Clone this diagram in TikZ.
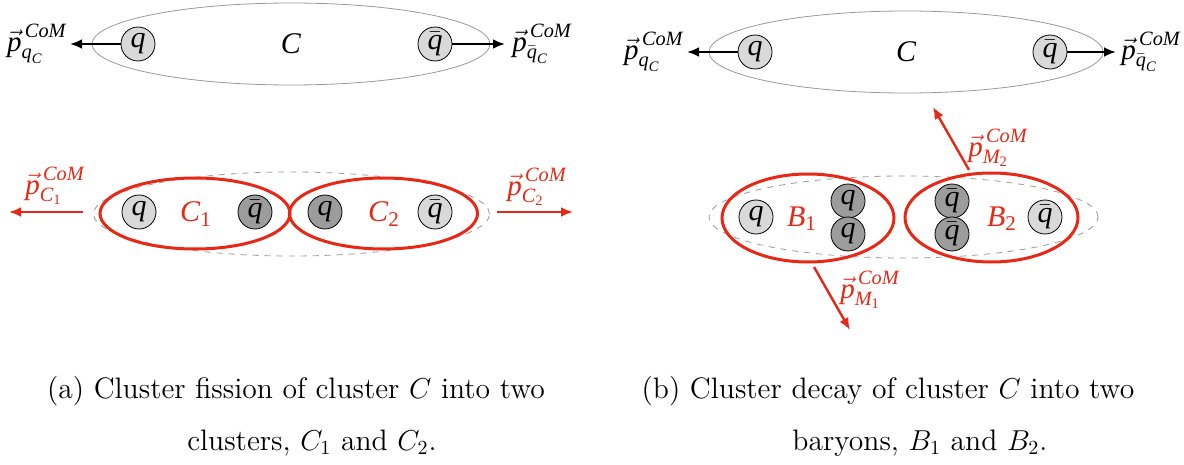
\documentclass[tikz,border=0pt]{standalone}
\usepackage{amsmath}
\usepackage{fontspec}
\newfontfamily\timesfont{Liberation Serif}
\usetikzlibrary{arrows.meta, shapes.geometric, positioning, calc}
\definecolor{fissred}{RGB}{232,40,20}
\newcommand{\ti}[1]{\text{\timesfont\itshape #1}}
\newcommand{\tu}[1]{\text{\timesfont\upshape #1}}
\newcommand{\pcom}[1]{$\vec{\ti{p}}^{\,\ti{CoM}}_{#1}$}

\begin{document}
\begin{tikzpicture}[
    x=0.5pt, y=-0.5pt,
    every node/.style={font=\fontsize{15}{17}\timesfont\itshape},
    quark/.style={circle, draw, thin, fill=gray!30, minimum size=17pt, inner sep=0pt},
    heavyquark/.style={quark, fill=gray!78},
    cluster/.style={ellipse, draw=gray!80, thin, inner sep=0pt},
    fission/.style={ellipse, draw=fissred, line width=1.5pt, inner sep=0pt},
    ghost/.style={ellipse, draw=gray!80, dashed, thin, inner sep=0pt},
    mom/.style={-{Latex[length=6pt,width=5pt]}, line width=1.2pt},
    redmom/.style={mom, fissred},
    momlabel/.style={font=\fontsize{14.5}{16}\timesfont\itshape, inner sep=0.5pt},
    caption/.style={font=\normalfont\fontsize{14.8}{17}\selectfont}
  ]
    \useasboundingbox (0,0) rectangle (1184,465);

    % (a) parent cluster
    \node[cluster, minimum width=199pt, minimum height=41pt] (ca) at (291,44) {};
    \node (calab) at (291,44) {C};
    \node[quark] (qa) at (138,44) {q};
    \node[quark] (qbara) at (435,44) {$\bar{\ti{q}}$};
    \coordinate (tipqa) at (70,44);
    \coordinate (tipqbara) at (505,44);
    \draw[mom] (qa) -- (tipqa);
    \draw[mom] (qbara) -- (tipqbara);
    \node[momlabel, left=1pt of tipqa] (pqa) {\pcom{\ti{q}_{\ti{C}}}};
    \node[momlabel, right=3pt of tipqbara] (pqbara) {\pcom{\bar{\ti{q}}_{\ti{C}}}};

    % (a) fission into C1 and C2
    \node[ghost, minimum width=198pt, minimum height=42pt] (ga) at (291.5,214) {};
    \node[fission, minimum width=95pt, minimum height=35.5pt] (cone) at (195,213.5) {};
    \node[fission, minimum width=94pt, minimum height=35.5pt] (ctwo) at (383.5,213.5) {};
    \node[quark] (qone) at (139,212) {q};
    \node[heavyquark] (qbarone) at (255,212) {$\bar{\ti{q}}$};
    \node[heavyquark] (qtwo) at (325,212) {q};
    \node[quark] (qbartwo) at (435,212) {$\bar{\ti{q}}$};
    \node[text=fissred] (conelab) at (196,214) {$\ti{C}_{\tu{1}}$};
    \node[text=fissred] (ctwolab) at (384,214) {$\ti{C}_{\tu{2}}$};
    \coordinate (startcone) at (83,212);
    \coordinate (tipcone) at (9,212);
    \coordinate (startctwo) at (497,212);
    \coordinate (tipctwo) at (573,212);
    \draw[redmom] (startcone) -- (tipcone);
    \draw[redmom] (startctwo) -- (tipctwo);
    \node[momlabel, text=fissred] (pcone) at (55,186) {\pcom{\ti{C}_{\tu{1}}}};
    \node[momlabel, text=fissred] (pctwo) at (537,187) {\pcom{\ti{C}_{\tu{2}}}};

    % (b) parent cluster
    \node[cluster, minimum width=197pt, minimum height=41pt] (cb) at (906,52) {};
    \node (cblab) at (906,52) {C};
    \node[quark] (qb) at (755,52) {q};
    \node[quark] (qbarb) at (1050,52) {$\bar{\ti{q}}$};
    \coordinate (tipqb) at (687,52);
    \coordinate (tipqbarb) at (1116,52);
    \draw[mom] (qb) -- (tipqb);
    \draw[mom] (qbarb) -- (tipqbarb);
    \node[momlabel, left=1pt of tipqb] (pqb) {\pcom{\ti{q}_{\ti{C}}}};
    \node[momlabel, right=2pt of tipqbarb] (pqbarb) {\pcom{\bar{\ti{q}}_{\ti{C}}}};

    % (b) decay into B1 and B2
    \node[ghost, minimum width=194.5pt, minimum height=41pt] (gb) at (903.5,217) {};
    \node[fission, minimum width=86pt, minimum height=44pt] (bone) at (808,218) {};
    \node[fission, minimum width=86.5pt, minimum height=44.5pt] (btwo) at (991.5,217.5) {};
    \node[quark] (qsolo) at (756,217) {q};
    \node[heavyquark] (qdiup) at (848,201) {q};
    \node[heavyquark] (qdidown) at (848,234) {q};
    \node[heavyquark] (qbardiup) at (952,201) {$\bar{\ti{q}}$};
    \node[heavyquark] (qbardidown) at (952,234) {$\bar{\ti{q}}$};
    \node[quark] (qbarsolo) at (1045,217) {$\bar{\ti{q}}$};
    \node[text=fissred] (bonelab) at (802,219) {$\ti{B}_{\tu{1}}$};
    \node[text=fissred] (btwolab) at (1002,219) {$\ti{B}_{\tu{2}}$};
    \coordinate (startmone) at (814,267);
    \coordinate (tipmone) at (850,330);
    \coordinate (startmtwo) at (969,170);
    \coordinate (tipmtwo) at (933,107);
    \draw[redmom] (startmone) -- (tipmone);
    \draw[redmom] (startmtwo) -- (tipmtwo);
    \node[momlabel, text=fissred] (pmone) at (870,290) {\pcom{\ti{M}_{\tu{1}}}};
    \node[momlabel, text=fissred] (pmtwo) at (998,148) {\pcom{\ti{M}_{\tu{2}}}};

    % captions
    \node[caption] (capa) at (296,391) {(a) Cluster fission of cluster $C$ into two};
    \node[caption] (capatwo) at (312,443) {clusters, $C_1$ and $C_2$.};
    \node[caption] (capb) at (888,391) {(b) Cluster decay of cluster $C$ into two};
    \node[caption] (capbtwo) at (920,443) {baryons, $B_1$ and $B_2$.};

  \end{tikzpicture}
\end{document}
